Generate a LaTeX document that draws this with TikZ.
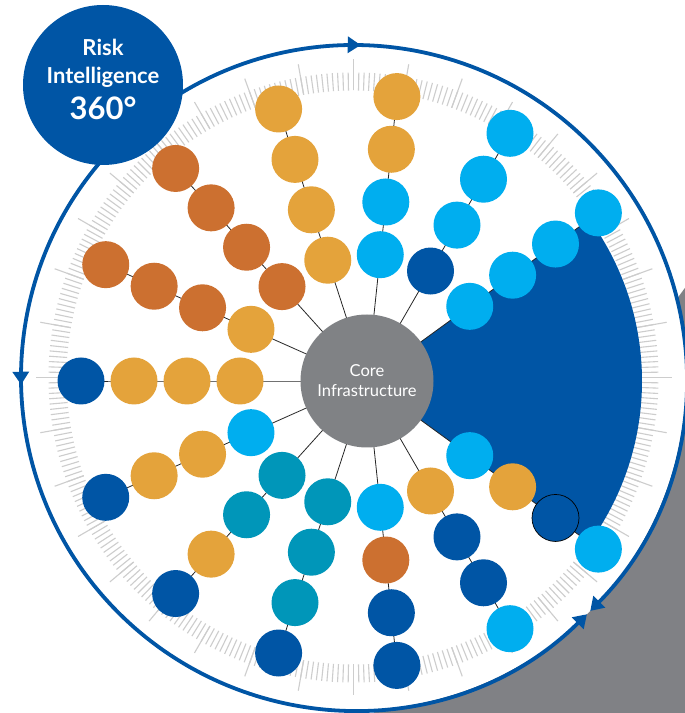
\documentclass[tikz,border=0pt]{standalone}
\usepackage{fontspec}
\setmainfont{Lato}
\usetikzlibrary{calc,arrows.meta,decorations.markings}
\pgfdeclarelayer{bg}
\pgfsetlayers{bg,main}
\definecolor{dblue}{HTML}{0055A5}
\definecolor{cyanc}{HTML}{00AEEF}
\definecolor{goldc}{HTML}{E4A33B}
\definecolor{rustc}{HTML}{CC7030}
\definecolor{tealc}{HTML}{0096B9}
\definecolor{coregray}{HTML}{808285}
\definecolor{shadowgray}{HTML}{808185}
\definecolor{tickgray}{HTML}{CDCDCD}
\begin{document}
\begin{tikzpicture}[x=1pt,y=1pt,
  dot/.style={circle, minimum size=47pt, inner sep=0pt, draw=none},
  pB/.style={fill=dblue}, pC/.style={fill=cyanc}, pG/.style={fill=goldc},
  pR/.style={fill=rustc}, pT/.style={fill=tealc},
  pO/.style={fill=dblue, draw=black, line width=0.7pt},
  coreNode/.style={circle, fill=coregray, minimum size=133pt, inner sep=0pt,
    text=white, align=center, font=\fontsize{16.5}{20}\selectfont},
  titleNode/.style={circle, fill=dblue, minimum size=160pt, inner sep=0pt,
    text=white, align=center, text depth=11pt, font=\bfseries\fontsize{22}{28}\selectfont},
  spoke/.style={draw=black!85, line width=0.8pt},
  tickline/.style={draw=tickgray, line width=1.1pt},
  ringline/.style={draw=dblue, line width=3.8pt},
  midarrow/.style={postaction={decorate, decoration={markings,
    mark=at position 0.2575 with {\arrow{Triangle[length=13pt,width=16pt]}}}}}
]
\useasboundingbox (0,0) rectangle (685,713);
\coordinate (C) at (367,332);
\coordinate (R) at (353.5,335.5);

% core
\node[coreNode] (core) at (C) {Core\\Infrastructure};

% circles along the spokes (inner to outer)
\foreach \ang/\ca/\cb/\cc/\cd [count=\k] in {
  36/pC/pC/pC/pC,
  60/pB/pC/pC/pC,
  84/pC/pC/pG/pG,
  108/pG/pG/pG/pG,
  132/pR/pR/pR/pR,
  156/pG/pR/pR/pR,
  180/pG/pG/pG/pB,
  204/pC/pG/pG/pB,
  228/pT/pT/pG/pB,
  252/pT/pT/pT/pB,
  276/pC/pR/pB/pB,
  300/pG/pB/pB/pC,
  324/pC/pG/pO/pC}{
  \node[dot,\ca] (s\k-1) at ($(C)+(\ang:127)$) {};
  \node[dot,\cb] (s\k-2) at ($(C)+(\ang:180)$) {};
  \node[dot,\cc] (s\k-3) at ($(C)+(\ang:233)$) {};
  \node[dot,\cd] (s\k-4) at ($(C)+(\ang:286)$) {};
}

% title badge
\node[titleNode] (title) at (103,628)
  {Risk\\Intelligence\\[8pt]{\fontsize{31}{31}\selectfont 360°}};

\begin{pgfonlayer}{bg}
  % grey backdrop
  \fill[shadowgray] (374,0) -- (690,432) -- (690,0) -- cycle;
  % white dial
  \fill[white] (R) circle[radius=332.5];
  % ticks
  \foreach \a in {0,...,359}
    \draw[tickline, shift={(R)}] (\a:287) -- (\a:305);
  \foreach \a in {0,10,...,350}
    \draw[tickline, shift={(R)}] (\a:287) -- (\a:318);
  % ring arrows
  \draw[ringline, midarrow, -{Triangle[length=13pt,width=16pt]}]
    ($(R)+(135:332.5)$) arc[start angle=135, end angle=-44.6, radius=332.5];
  \draw[ringline, midarrow, -{Triangle[length=13pt,width=16pt]}]
    ($(R)+(135:332.5)$) arc[start angle=135, end angle=314.6, radius=332.5];
  % blue sector
  \fill[dblue] (C) -- ($(C)+(-36:275)$) arc[start angle=-36, end angle=36, radius=275] -- cycle;
  % spokes
  \foreach \k in {1,...,13}
    \draw[spoke] (core.center) -- (s\k-1.center) -- (s\k-2.center) -- (s\k-3.center) -- (s\k-4.center);
\end{pgfonlayer}
\end{tikzpicture}
\end{document}
